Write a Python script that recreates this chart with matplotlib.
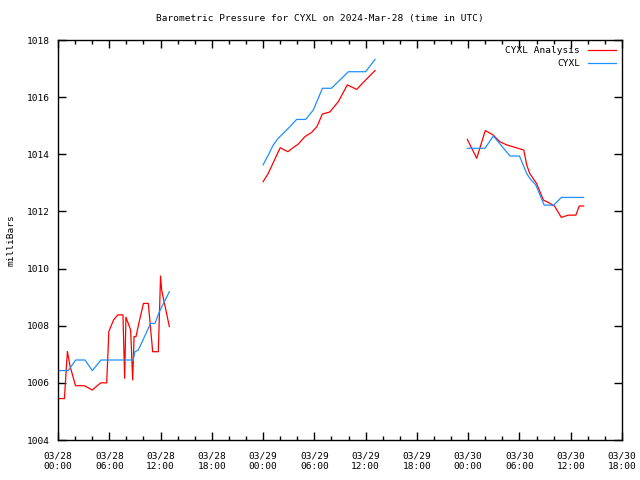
import matplotlib
matplotlib.use("Agg")
import matplotlib.pyplot as plt
import numpy as np

# hours since 2024-03-28 00:00 UTC, NaN breaks the line between days
hrs_an = [0.0, 0.75, 1.1, 1.4, 2.05, 3.1, 4.0, 5.0, 5.7, 5.95, 6.5, 7.0, 7.6, 7.8, 7.95,
          8.5, 8.74, 8.9, 9.13, 9.5, 10.0, 10.57, 11.08, 11.74, 12.0, 12.13, 13.03,
          np.nan,
          24.0, 24.6, 26.0, 26.9, 27.5, 28.1, 28.9, 29.7, 30.3, 30.94, 31.8, 32.8, 33.86,
          34.95, 36.0, 37.1,
          np.nan,
          47.9, 49.0, 50.0, 50.9, 51.7, 52.5, 53.5, 54.5, 54.85, 55.2, 56.0, 56.8, 57.4,
          58.1, 58.9, 59.7, 60.6, 61.0, 61.5]
mb_an = [1005.45, 1005.45, 1007.1, 1006.6, 1005.9, 1005.9, 1005.75, 1006.0, 1006.0, 1007.8,
         1008.2, 1008.38, 1008.38, 1006.16, 1008.3,
         1007.85, 1006.1, 1007.62, 1007.62, 1008.14, 1008.78, 1008.78, 1007.09, 1007.09,
         1009.74, 1009.25, 1007.97,
         np.nan,
         1013.04, 1013.33, 1014.23, 1014.09, 1014.23, 1014.35, 1014.62, 1014.77, 1014.97,
         1015.41, 1015.48, 1015.84, 1016.43, 1016.27, 1016.6, 1016.93,
         np.nan,
         1014.52, 1013.86, 1014.83, 1014.68, 1014.44, 1014.33, 1014.24, 1014.15, 1013.63,
         1013.33, 1012.98, 1012.4, 1012.31, 1012.19, 1011.79, 1011.87, 1011.87, 1012.19,
         1012.19]

hrs_ob = [0.0, 1.2, 2.07, 3.16, 4.02, 5.03, 8.8, 9.0, 9.4, 10.84, 11.35, 11.86, 13.03,
          np.nan,
          24.0, 24.6, 25.2, 25.77, 26.76, 27.93, 28.98, 29.88, 30.94, 32.0, 33.98, 36.0, 37.1,
          np.nan,
          47.9, 49.97, 50.94, 52.9, 54.0, 54.85, 55.2, 55.9, 56.9, 58.0, 58.9, 61.5]
mb_ob = [1006.43, 1006.43, 1006.8, 1006.8, 1006.43, 1006.8, 1006.8, 1007.09, 1007.15,
         1008.08, 1008.08, 1008.49, 1009.19,
         np.nan,
         1013.63, 1013.97, 1014.33, 1014.56, 1014.85, 1015.22, 1015.22, 1015.55, 1016.31,
         1016.31, 1016.89, 1016.89, 1017.32,
         np.nan,
         1014.21, 1014.21, 1014.64, 1013.94, 1013.94, 1013.33, 1013.16, 1012.93, 1012.22,
         1012.22, 1012.49, 1012.49]

xtick_hrs = list(range(0, 67, 6))
xtick_labels = ["03/28\n00:00", "03/28\n06:00", "03/28\n12:00", "03/28\n18:00",
                "03/29\n00:00", "03/29\n06:00", "03/29\n12:00", "03/29\n18:00",
                "03/30\n00:00", "03/30\n06:00", "03/30\n12:00", "03/30\n18:00"]
yticks = [1004, 1006, 1008, 1010, 1012, 1014, 1016, 1018]

plt.rcParams['font.family'] = ['DejaVu Sans Mono']
fs = 6.8

fig = plt.figure(figsize=(6.4, 4.8), dpi=100)
ax = fig.add_axes([58/640, 40/480, 564/640, 400/480])

ax.plot(hrs_an, mb_an, color='#ff0000', lw=0.9, label='CYXL Analysis')
ax.plot(hrs_ob, mb_ob, color='#1e90ff', lw=0.9, label='CYXL')

ax.set_xlim(0, 66)
ax.set_ylim(1004, 1018)
ax.set_xticks(xtick_hrs)
ax.set_xticklabels(xtick_labels, fontsize=fs)
ax.set_xticks(range(0, 67, 2), minor=True)
ax.set_yticks(yticks)
ax.set_yticklabels([str(v) for v in yticks], fontsize=fs)
ax.tick_params(which='both', direction='in', top=True, right=True, width=1)
ax.tick_params(which='major', length=6, pad=6)
ax.tick_params(which='minor', length=3)
ax.tick_params(axis='x', pad=8)
for s in ax.spines.values():
    s.set_linewidth(1)

ax.set_ylabel('milliBars', fontsize=fs, labelpad=8)
fig.text(0.5, 1 - 19/480, 'Barometric Pressure for CYXL on 2024-Mar-28 (time in UTC)',
         ha='center', va='center', fontsize=fs)

ax.legend(loc='upper right', frameon=False, markerfirst=False, fontsize=fs,
          handlelength=3, handletextpad=0.8, labelspacing=0.45,
          borderaxespad=0.25)

fig.savefig('out.png', dpi=100)
